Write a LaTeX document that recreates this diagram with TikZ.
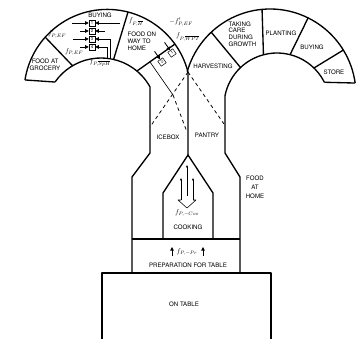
\documentclass[tikz,border=0pt]{standalone}
\usepackage{amsmath}
\usepackage{fontspec}
\setmainfont{TeX Gyre Heros}
\usepackage{tikz}
\usetikzlibrary{arrows.meta, positioning, calc}

\begin{document}
\begin{tikzpicture}[x=0.05cm, y=0.05cm,
    rim/.style={line width=1.9pt, line join=round},
    guide/.style={line width=1.1pt, dash pattern=on 5pt off 4.5pt},
    wire/.style={line width=0.9pt},
    lbl/.style={align=center, inner sep=0pt, font=\fontsize{8.7}{10.5}\selectfont},
    flow/.style={inner sep=0pt, font=\fontsize{10}{11}\selectfont},
    numbox/.style={draw, line width=0.7pt, minimum size=3mm, inner sep=0pt, font=\fontsize{6}{6}\selectfont},
    arr/.style={-{Triangle[length=5pt, width=5pt]}, line width=1.2pt},
    thinarr/.style={-{Triangle[length=3.5pt, width=3pt]}, line width=0.8pt}]
  \useasboundingbox (0,0) rectangle (363,339);
  % centres of the two arches
  \coordinate (lo) at (107.3,246.3);
  \coordinate (li) at (101,225);
  \coordinate (ro) at (270,244);
  \coordinate (ri) at (277,233);
  % left arch, icebox wall
  \draw[rim] (lo) ++(171.2:83.3) coordinate (lo1) arc[start angle=171.2, end angle=14.4, radius=4.165cm] coordinate (v) -- (188,184) coordinate (apex);
  \draw[rim] (li) ++(145.2:56) coordinate (li1) arc[start angle=145.2, end angle=28.9, radius=2.8cm] -- (150,186) -- (132,162) -- (132,66);
  \draw[rim] (lo1) -- (li1);
  \draw[rim] ($(lo)+(138.2:83.3)$) -- ($(li)+(120.5:56)$);
  \draw[rim] ($(lo)+(75.6:83.3)$) -- ($(li)+(77:56)$);
  \draw[rim] ($(lo)+(35.7:83.3)$) -- ($(li)+(50.1:56)$);
  % right arch, pantry wall
  \draw[rim] (ro) ++(8:86) coordinate (ro1) arc[start angle=8, end angle=164.3, radius=4.3cm];
  \draw[rim] (ri) ++(26.6:53) coordinate (ri1) arc[start angle=26.6, end angle=168.9, radius=2.65cm] -- (225,186) -- (240,162) -- (240,66);
  \draw[rim] (ro1) -- (ri1);
  \draw[rim] ($(ro)+(133.1:86)$) -- ($(ri)+(133.5:53)$);
  \draw[rim] ($(ro)+(95.3:86)$) -- ($(ri)+(104.8:53)$);
  \draw[rim] ($(ro)+(63.7:86)$) -- ($(ri)+(75.7:53)$);
  \draw[rim] ($(ro)+(31.5:86)$) -- ($(ri)+(45.8:53)$);
  % cooking, preparation, table
  \draw[rim] (163,100) -- (163,146) -- (apex) -- (213,146) -- (213,100);
  \draw[rim] (132,100) -- (240,100);
  \draw[rim] (102,0) -- (102,66) -- (271,66) -- (271,0);
  % dashed paths
  \draw[guide] (v) -- (150,212);
  \draw[guide] (v) -- (224,215);
  \draw[wire] (150,277) coordinate (w0) -- (173,244) coordinate (w1);
  \draw[guide] (w1) -- (187,207) coordinate (w2);

  % texts
  \node[lbl] (grocery) at (45,274) {FOOD AT\\GROCERY};
  \node[lbl] (buying) at (100,324) {BUYING};
  \node[lbl, align=left, anchor=north west] (wayhome) at (127.5,307.5) {FOOD ON\\WAY TO\\HOME};
  \node[lbl] (harvest) at (213,273) {HARVESTING};
  \node[lbl, align=left, anchor=north west, font=\fontsize{8.7}{9.5}\selectfont] (care) at (228.5,317.5) {TAKING\\CARE\\DURING\\GROWTH};
  \node[lbl] (planting) at (281,306) {PLANTING};
  \node[lbl] (buyshop) at (312,292) {BUYING};
  \node[lbl] (store) at (334,267) {STORE};
  \node[lbl] (icebox) at (168,202) {ICEBOX};
  \node[lbl] (pantry) at (207,204) {PANTRY};
  \node[lbl, font=\fontsize{8.7}{12.5}\selectfont] (home) at (255,152) {FOOD\\AT\\HOME};
  \node[flow] (fcoo) at (187,126) {$f_{P,-Coo}$};
  \node[lbl] (cooking) at (188,111.5) {COOKING};
  \node[flow] (fpr) at (187,87) {$f_{P,-Pr}$};
  \node[lbl] (prep) at (188,73.5) {PREPARATION FOR TABLE};
  \node[lbl] (table) at (184,35) {ON TABLE};

  % flows in the buying section
  \node[flow] (fef1) at (57,305) {$f_{P,EF}'$};
  \node[flow] (fef) at (74,287) {$f_{P,EF}$};
  \node[flow, anchor=north] (fsph) at (100,280.5) {$f_{P,\overline{SpH}}$};
  \node[flow] (ffh) at (136,317) {$f_{F,\overline{H}}$};
  \node[numbox] (n1) at (92,316) {1};
  \node[numbox, below=0.075cm of n1] (n2) {2};
  \node[numbox, below=0.075cm of n2] (n3) {3};
  \node[numbox, below=0.075cm of n3] (n4) {4};
  \coordinate[left=0.85cm of n1] (l1);
  \coordinate[left=0.45cm of n2] (l2);
  \coordinate[left=0.8cm of n3] (l3);
  \coordinate[left=0.45cm of n4] (l4);
  \coordinate[right=1.25cm of n1] (r1);
  \coordinate[right=0.5cm of n2] (r2);
  \coordinate[right=0.75cm of n3] (r3);
  \coordinate[right=0.6cm of n4] (r4);
  \draw[arr] (l1) -- (n1);
  \draw[arr] (l2) -- (n2);
  \draw[arr] (l3) -- (n3);
  \draw[arr] (l4) -- (n4);
  \draw[arr] (r1) -- (n1);
  \draw[arr] (r2) -- (n2);
  \draw[arr] (fsph.north -| r3) -- (r3) -- (n3);
  \draw[arr] (fsph.north -| r4) -- (r4) -- (n4);

  % food leaving the way home
  \node[flow] (mfef) at (181,317) {$-f_{P,EF}'$};
  \node[flow] (fwpt) at (188,302) {$f_{P,\overline{WPT}}$};
  \node[numbox, rotate=35] (c1) at (172,286) {1};
  \node[numbox, rotate=35] (c2) at (162,277) {2};
  \coordinate (c1in) at ($(c1)+(125:13)$);
  \coordinate (c2in) at ($(c2)+(125:13)$);
  \draw[arr] (c1in) -- (c1);
  \draw[arr] (c2in) -- (c2);

  % cooking arrows
  \draw[line width=0.8pt, line join=round] (181,139) -- (178,139) -- (187,131) -- (196,139) -- (193,139);
  \draw[thinarr] (181,139) -- (181,161);
  \draw[thinarr] (193,139) -- (193,161);
  \draw[thinarr] (187,143) -- (187,174);
  \draw[arr] (172,83) -- (172,92);
  \draw[arr] (203,83) -- (203,92);
\end{tikzpicture}
\end{document}
